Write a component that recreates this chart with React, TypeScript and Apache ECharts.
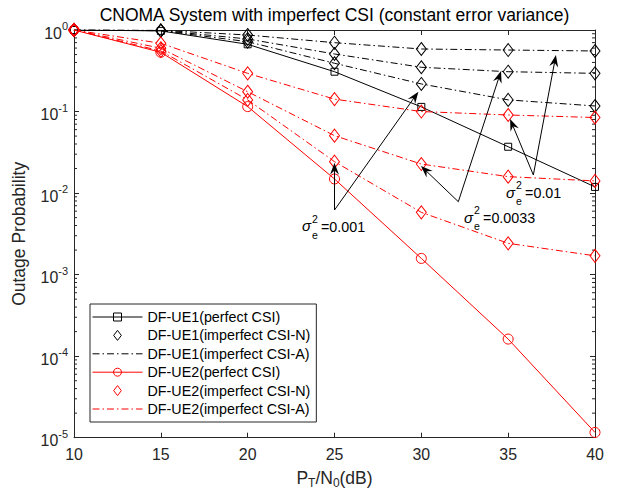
import React, { useEffect, useRef } from "react";
import * as echarts from "echarts";

// ---------- data ----------
const snrDb = [10, 15, 20, 25, 30, 35, 40];

// UE1 (black)
const ue1Perfect = [1, 0.975, 0.668, 0.308, 0.114, 0.037, 0.0119];
const ue1Imp001 = [1, 0.98, 0.719, 0.391, 0.218, 0.139, 0.117];
const ue1Imp0033 = [1, 0.985, 0.776, 0.508, 0.349, 0.308, 0.294];
const ue1Imp01 = [1, 0.99, 0.868, 0.699, 0.585, 0.568, 0.553];

// UE2 (red)
const ue2Perfect = [1, 0.533, 0.115, 0.0149, 0.00158, 0.000162, 0.0000116];
const ue2Imp001 = [1, 0.553, 0.139, 0.0243, 0.0058, 0.00242, 0.0017];
const ue2Imp0033 = [1, 0.597, 0.175, 0.0506, 0.0227, 0.0159, 0.0141];
const ue2Imp01 = [1, 0.687, 0.294, 0.142, 0.1, 0.0907, 0.0845];

const seriesNames = [
  "DF-UE1(perfect CSI)",
  "DF-UE1(imperfect CSI-N)",
  "DF-UE1(imperfect CSI-A)",
  "DF-UE2(perfect CSI)",
  "DF-UE2(imperfect CSI-N)",
  "DF-UE2(imperfect CSI-A)",
];

const titleText = "CNOMA System with imperfect CSI (constant error variance)";

// annotation: label anchor, arrow tail and arrow tips in data coordinates
const annotLabels = ["0.001", "0.0033", "0.01"];
const annotTextPos = [
  [23.13, 0.00387],
  [32.46, 0.00491],
  [34.88, 0.00994],
];
const annotTails = [
  [25, 0.0062],
  [32.13, 0.00784],
  [36.45, 0.01667],
];
const annotTips = [
  [
    [25, 0.0235],
    [29.83, 0.175],
  ],
  [
    [29.98, 0.0215],
    [34.59, 0.314],
  ],
  [
    [35.11, 0.081],
    [37.75, 0.494],
  ],
];

const minorTickValues: number[] = [];
for (let e = -5; e <= -1; e++) {
  for (let k = 2; k <= 9; k++) minorTickValues.push(k * Math.pow(10, e));
}

const FONT = '"Liberation Sans", Arial, Helvetica, sans-serif';
const AX = "#262626";
const DASHDOT = [7, 3, 1.5, 3];
const CLEAR = "rgba(0,0,0,0)";
const DIAMOND_ICON = "path://M5 0L10 6.5L5 13L0 6.5Z";

function pairs(ys: number[]) {
  return snrDb.map((x, i) => [x, ys[i]]);
}

function lineSeries(name: string, ys: number[], color: string, opts: any, markerVisible = true) {
  return {
    type: "line",
    name,
    data: pairs(ys),
    xAxisIndex: 0,
    yAxisIndex: 0,
    showAllSymbol: true,
    ...opts,
    lineStyle: { color, width: 1, ...(opts.lineStyle || {}) },
    itemStyle: markerVisible
      ? { color: CLEAR, borderColor: color, borderWidth: 1 }
      : { color: CLEAR, borderColor: CLEAR, borderWidth: 0, opacity: 0 },
    emphasis: { disabled: true },
  };
}

export default function App() {
  const ref = useRef<HTMLDivElement>(null);

  useEffect(() => {
    document.body.style.margin = "0";
    if (!ref.current) return;
    const chart = echarts.init(ref.current, null, { renderer: "svg" });

    const perfectOpts = (sym: string, size: any) => ({ symbol: sym, symbolSize: size });
    const nOpts = { symbol: "diamond", symbolSize: [10, 13], lineStyle: { opacity: 0 } };
    const aOpts = { symbol: "none", lineStyle: { type: DASHDOT } };

    const series: any[] = [
      lineSeries(seriesNames[0], ue1Perfect, "#000000", perfectOpts("rect", 7)),
      lineSeries(seriesNames[1], ue1Imp001, "#000000", nOpts),
      lineSeries(seriesNames[1], ue1Imp0033, "#000000", nOpts),
      lineSeries(seriesNames[1], ue1Imp01, "#000000", nOpts),
      lineSeries(seriesNames[2], ue1Imp001, "#000000", aOpts, false),
      lineSeries(seriesNames[2], ue1Imp0033, "#000000", aOpts, false),
      lineSeries(seriesNames[2], ue1Imp01, "#000000", aOpts, false),
      lineSeries(seriesNames[3], ue2Perfect, "#ff0000", perfectOpts("circle", 10)),
      lineSeries(seriesNames[4], ue2Imp001, "#ff0000", nOpts),
      lineSeries(seriesNames[4], ue2Imp0033, "#ff0000", nOpts),
      lineSeries(seriesNames[4], ue2Imp01, "#ff0000", nOpts),
      lineSeries(seriesNames[5], ue2Imp001, "#ff0000", aOpts, false),
      lineSeries(seriesNames[5], ue2Imp0033, "#ff0000", aOpts, false),
      lineSeries(seriesNames[5], ue2Imp01, "#ff0000", aOpts, false),
      {
        type: "custom",
        silent: true,
        xAxisIndex: 0,
        yAxisIndex: 0,
        data: minorTickValues.map((v) => [10, v]),
        encode: { x: 0, y: 1 },
        renderItem: (params: any, api: any) => {
          const pt = api.coord([api.value(0), api.value(1)]);
          const cs = params.coordSys;
          const y = pt[1];
          const st = { stroke: AX, lineWidth: 1 };
          return {
            type: "group",
            children: [
              { type: "line", shape: { x1: cs.x, y1: y, x2: cs.x + 3, y2: y }, style: st },
              { type: "line", shape: { x1: cs.x + cs.width - 3, y1: y, x2: cs.x + cs.width, y2: y }, style: st },
            ],
          };
        },
        z: 1,
      },
    ];

    const axisLine = { show: true, onZero: false, lineStyle: { color: AX, width: 1 } };
    const tick = { show: true, inside: true, length: 5, lineStyle: { color: AX, width: 1 } };

    const legendData = seriesNames.map((n, i) =>
      i === 1 || i === 4 ? { name: n, icon: DIAMOND_ICON } : { name: n }
    );

    chart.setOption({
      animation: false,
      backgroundColor: "#ffffff",
      title: {
        text: titleText,
        left: 334.5,
        textAlign: "center",
        top: 6,
        padding: 0,
        textStyle: { fontSize: 17.5, fontWeight: "normal", color: "#000", fontFamily: FONT },
      },
      grid: { left: 74, right: 26, top: 30, bottom: 58.3, containLabel: false },
      xAxis: [
        {
          type: "value",
          min: 10,
          max: 40,
          interval: 5,
          position: "bottom",
          axisLine,
          axisTick: tick,
          splitLine: { show: false },
          axisLabel: { color: AX, fontSize: 15.9, fontFamily: FONT, margin: 9 },
          name: "{a|P}{s|T}{a|/N}{s|0}{a|(dB)}",
          nameLocation: "middle",
          nameGap: 30,
          nameTextStyle: {
            color: AX,
            rich: {
              a: { fontSize: 17.5, fontFamily: FONT, color: AX, padding: [0, 0, 0, 0] },
              s: { fontSize: 12, fontFamily: FONT, color: AX, padding: [9, 0, 0, 0] },
            },
          },
        },
        {
          type: "value",
          min: 10,
          max: 40,
          interval: 5,
          position: "top",
          axisLine,
          axisTick: tick,
          splitLine: { show: false },
          axisLabel: { show: false },
        },
      ],
      yAxis: [
        {
          type: "log",
          logBase: 10,
          min: 1e-5,
          max: 1,
          splitNumber: 5,
          position: "left",
          axisLine,
          axisTick: tick,
          splitLine: { show: false },
          axisLabel: {
            margin: 6,
            formatter: (v: number) => `{b|10}{s|${Math.round(Math.log10(v))}}`,
            rich: {
              b: { fontSize: 15.9, fontFamily: FONT, color: AX, padding: [6, 0, 0, 0] },
              s: { fontSize: 11, fontFamily: FONT, color: AX, padding: [0, 0, 8, 0] },
            },
          },
          name: "Outage Probability",
          nameLocation: "middle",
          nameGap: 46,
          nameTextStyle: { fontSize: 17.5, fontFamily: FONT, color: AX },
        },
        {
          type: "log",
          logBase: 10,
          min: 1e-5,
          max: 1,
          splitNumber: 5,
          position: "right",
          axisLine,
          axisTick: tick,
          splitLine: { show: false },
          axisLabel: { show: false },
        },
      ],
      legend: {
        data: legendData,
        orient: "vertical",
        left: 90,
        top: 304,
        itemWidth: 50,
        itemHeight: 10,
        itemGap: 4.4,
        padding: [6, 6, 6, 2],
        backgroundColor: "#ffffff",
        borderColor: AX,
        borderWidth: 1,
        borderRadius: 0,
        selectedMode: false,
        lineStyle: { width: 1 },
        itemStyle: { borderWidth: 1 },
        textStyle: { fontSize: 14.3, fontFamily: FONT, color: "#000", lineHeight: 14 },
      },
      series,
    });

    // annotations (text arrows)
    const toPx = (p: number[]) => chart.convertToPixel({ xAxisIndex: 0, yAxisIndex: 0 }, p) as number[];
    const graphics: any[] = [];
    annotLabels.forEach((lab, i) => {
      const tail = toPx(annotTails[i]);
      annotTips[i].forEach((t) => {
        const tip = toPx(t);
        const dx = tip[0] - tail[0];
        const dy = tip[1] - tail[1];
        const len = Math.hypot(dx, dy);
        const ux = dx / len;
        const uy = dy / len;
        const nx = -uy;
        const ny = ux;
        const L = 12;
        const W = 4.5;
        graphics.push({
          type: "line",
          z: 100,
          silent: true,
          shape: { x1: tail[0], y1: tail[1], x2: tip[0] - ux * L * 0.6, y2: tip[1] - uy * L * 0.6 },
          style: { stroke: "#000", lineWidth: 1 },
        });
        graphics.push({
          type: "polygon",
          z: 100,
          silent: true,
          shape: {
            points: [
              [tip[0], tip[1]],
              [tip[0] - ux * L + nx * W, tip[1] - uy * L + ny * W],
              [tip[0] - ux * L * 0.65, tip[1] - uy * L * 0.65],
              [tip[0] - ux * L - nx * W, tip[1] - uy * L - ny * W],
            ],
          },
          style: { fill: "#000" },
        });
      });
      const lp = toPx(annotTextPos[i]);
      const base = { fontFamily: FONT, fill: "#000", align: "left", verticalAlign: "middle" };
      graphics.push({ type: "text", z: 100, silent: true, x: lp[0], y: lp[1] - 1, style: { ...base, text: "σ", fontSize: 15, fontStyle: "italic" } });
      graphics.push({ type: "text", z: 100, silent: true, x: lp[0] + 10, y: lp[1] - 8, style: { ...base, text: "2", fontSize: 10.5 } });
      graphics.push({ type: "text", z: 100, silent: true, x: lp[0] + 10, y: lp[1] + 8, style: { ...base, text: "e", fontSize: 10.5 } });
      graphics.push({ type: "text", z: 100, silent: true, x: lp[0] + 19, y: lp[1], style: { ...base, text: "=" + lab, fontSize: 14.3 } });
    });
    chart.setOption({ graphic: graphics });

    return () => chart.dispose();
  }, []);

  return <div ref={ref} style={{ width: 621, height: 496 }} />;
}
